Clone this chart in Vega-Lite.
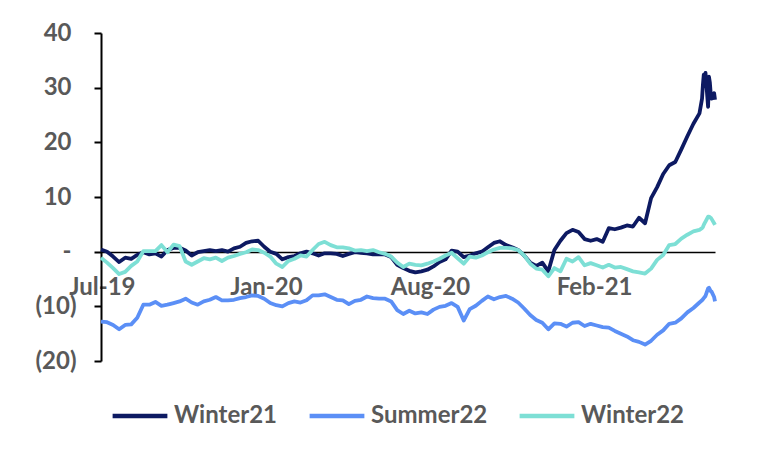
{
  "$schema": "https://vega.github.io/schema/vega-lite/v6.json",
  "width": 614,
  "height": 328,
  "autosize": {"type": "none"},
  "padding": {"left": 101, "top": 33, "right": 46, "bottom": 89},
  "background": "white",
  "config": {"view": {"stroke": null}, "font": "Lato"},
  "data": {"values": [
    {"date":"2019-07-19","Winter21":0.4,"Summer22":-12.8,"Winter22":-1.1},
    {"date":"2019-07-26","Winter21":0.0,"Summer22":-12.9,"Winter22":-2.0},
    {"date":"2019-08-02","Winter21":-0.9,"Summer22":-13.4,"Winter22":-3.0},
    {"date":"2019-08-09","Winter21":-1.9,"Summer22":-14.2,"Winter22":-4.1},
    {"date":"2019-08-16","Winter21":-1.1,"Summer22":-13.4,"Winter22":-3.7},
    {"date":"2019-08-23","Winter21":-1.3,"Summer22":-13.3,"Winter22":-2.6},
    {"date":"2019-08-30","Winter21":-0.6,"Summer22":-12.1,"Winter22":-1.8},
    {"date":"2019-09-06","Winter21":-0.1,"Summer22":-9.7,"Winter22":0.1},
    {"date":"2019-09-13","Winter21":-0.5,"Summer22":-9.7,"Winter22":0.1},
    {"date":"2019-09-20","Winter21":-0.3,"Summer22":-9.2,"Winter22":0.1},
    {"date":"2019-09-27","Winter21":-0.9,"Summer22":-9.9,"Winter22":1.2},
    {"date":"2019-10-04","Winter21":0.3,"Summer22":-9.7,"Winter22":-0.1},
    {"date":"2019-10-11","Winter21":0.7,"Summer22":-9.4,"Winter22":1.3},
    {"date":"2019-10-18","Winter21":0.7,"Summer22":-9.1,"Winter22":1.0},
    {"date":"2019-10-25","Winter21":0.2,"Summer22":-8.6,"Winter22":-1.8},
    {"date":"2019-11-01","Winter21":-0.7,"Summer22":-9.3,"Winter22":-2.4},
    {"date":"2019-11-08","Winter21":-0.1,"Summer22":-9.7,"Winter22":-1.8},
    {"date":"2019-11-15","Winter21":0.1,"Summer22":-9.1,"Winter22":-1.2},
    {"date":"2019-11-22","Winter21":0.3,"Summer22":-8.8,"Winter22":-1.4},
    {"date":"2019-11-29","Winter21":0.1,"Summer22":-8.3,"Winter22":-1.1},
    {"date":"2019-12-06","Winter21":0.3,"Summer22":-8.9,"Winter22":-1.7},
    {"date":"2019-12-13","Winter21":0.0,"Summer22":-8.9,"Winter22":-1.1},
    {"date":"2019-12-20","Winter21":0.6,"Summer22":-8.8,"Winter22":-0.8},
    {"date":"2019-12-27","Winter21":0.9,"Summer22":-8.5,"Winter22":-0.4},
    {"date":"2020-01-03","Winter21":1.6,"Summer22":-8.3,"Winter22":-0.1},
    {"date":"2020-01-10","Winter21":1.9,"Summer22":-8.0,"Winter22":0.4},
    {"date":"2020-01-17","Winter21":2.0,"Summer22":-8.1,"Winter22":0.3},
    {"date":"2020-01-24","Winter21":0.9,"Summer22":-8.6,"Winter22":-0.2},
    {"date":"2020-01-31","Winter21":0.0,"Summer22":-9.4,"Winter22":-0.9},
    {"date":"2020-02-07","Winter21":-0.4,"Summer22":-9.8,"Winter22":-2.2},
    {"date":"2020-02-14","Winter21":-1.4,"Summer22":-10.0,"Winter22":-2.8},
    {"date":"2020-02-21","Winter21":-1.0,"Summer22":-9.4,"Winter22":-1.7},
    {"date":"2020-02-28","Winter21":-0.8,"Summer22":-9.1,"Winter22":-1.3},
    {"date":"2020-03-06","Winter21":-0.3,"Summer22":-9.3,"Winter22":-0.7},
    {"date":"2020-03-13","Winter21":0.0,"Summer22":-8.9,"Winter22":-0.9},
    {"date":"2020-03-20","Winter21":-0.3,"Summer22":-8.0,"Winter22":0.3},
    {"date":"2020-03-27","Winter21":-0.7,"Summer22":-8.0,"Winter22":1.4},
    {"date":"2020-04-03","Winter21":-0.3,"Summer22":-7.8,"Winter22":1.8},
    {"date":"2020-04-10","Winter21":-0.3,"Summer22":-8.3,"Winter22":1.2},
    {"date":"2020-04-17","Winter21":-0.4,"Summer22":-8.8,"Winter22":0.8},
    {"date":"2020-04-24","Winter21":-0.8,"Summer22":-8.9,"Winter22":0.8},
    {"date":"2020-05-01","Winter21":-0.4,"Summer22":-9.6,"Winter22":0.6},
    {"date":"2020-05-08","Winter21":-0.1,"Summer22":-9.0,"Winter22":0.2},
    {"date":"2020-05-15","Winter21":-0.2,"Summer22":-8.8,"Winter22":0.3},
    {"date":"2020-05-22","Winter21":-0.3,"Summer22":-8.2,"Winter22":0.1},
    {"date":"2020-05-29","Winter21":-0.5,"Summer22":-8.5,"Winter22":0.3},
    {"date":"2020-06-05","Winter21":-0.5,"Summer22":-8.6,"Winter22":-0.1},
    {"date":"2020-06-12","Winter21":-0.5,"Summer22":-8.6,"Winter22":-0.4},
    {"date":"2020-06-19","Winter21":-1.0,"Summer22":-9.1,"Winter22":-0.9},
    {"date":"2020-06-26","Winter21":-2.4,"Summer22":-10.7,"Winter22":-2.0},
    {"date":"2020-07-03","Winter21":-3.0,"Summer22":-11.4,"Winter22":-2.8},
    {"date":"2020-07-10","Winter21":-3.5,"Summer22":-10.8,"Winter22":-2.2},
    {"date":"2020-07-17","Winter21":-3.8,"Summer22":-11.3,"Winter22":-2.4},
    {"date":"2020-07-24","Winter21":-3.6,"Summer22":-11.1,"Winter22":-2.5},
    {"date":"2020-07-31","Winter21":-3.3,"Summer22":-11.4,"Winter22":-2.2},
    {"date":"2020-08-07","Winter21":-2.7,"Summer22":-10.6,"Winter22":-1.8},
    {"date":"2020-08-14","Winter21":-1.9,"Summer22":-10.1,"Winter22":-1.3},
    {"date":"2020-08-21","Winter21":-1.4,"Summer22":-9.9,"Winter22":-0.7},
    {"date":"2020-08-28","Winter21":0.2,"Summer22":-9.4,"Winter22":-0.2},
    {"date":"2020-09-04","Winter21":0.0,"Summer22":-10.1,"Winter22":-1.2},
    {"date":"2020-09-11","Winter21":-1.0,"Summer22":-12.6,"Winter22":-2.2},
    {"date":"2020-09-18","Winter21":-0.7,"Summer22":-10.5,"Winter22":-0.9},
    {"date":"2020-09-25","Winter21":-0.3,"Summer22":-9.9,"Winter22":-1.1},
    {"date":"2020-10-02","Winter21":0.0,"Summer22":-9.0,"Winter22":-0.7},
    {"date":"2020-10-09","Winter21":0.8,"Summer22":-8.2,"Winter22":-0.1},
    {"date":"2020-10-16","Winter21":1.6,"Summer22":-8.7,"Winter22":0.4},
    {"date":"2020-10-23","Winter21":1.9,"Summer22":-8.3,"Winter22":0.7},
    {"date":"2020-10-30","Winter21":1.2,"Summer22":-8.1,"Winter22":0.7},
    {"date":"2020-11-06","Winter21":0.8,"Summer22":-8.6,"Winter22":0.6},
    {"date":"2020-11-13","Winter21":0.3,"Summer22":-9.3,"Winter22":0.3},
    {"date":"2020-11-20","Winter21":-0.7,"Summer22":-10.4,"Winter22":-0.7},
    {"date":"2020-11-27","Winter21":-2.0,"Summer22":-11.6,"Winter22":-2.2},
    {"date":"2020-12-04","Winter21":-2.6,"Summer22":-12.5,"Winter22":-3.1},
    {"date":"2020-12-11","Winter21":-2.0,"Summer22":-13.0,"Winter22":-3.3},
    {"date":"2020-12-18","Winter21":-3.6,"Summer22":-14.2,"Winter22":-4.5},
    {"date":"2020-12-25","Winter21":0.3,"Summer22":-13.1,"Winter22":-3.0},
    {"date":"2021-01-01","Winter21":2.0,"Summer22":-13.2,"Winter22":-3.6},
    {"date":"2021-01-08","Winter21":3.4,"Summer22":-13.7,"Winter22":-1.3},
    {"date":"2021-01-15","Winter21":4.0,"Summer22":-13.0,"Winter22":-1.8},
    {"date":"2021-01-22","Winter21":3.6,"Summer22":-12.9,"Winter22":-1.0},
    {"date":"2021-01-29","Winter21":2.3,"Summer22":-13.6,"Winter22":-2.5},
    {"date":"2021-02-05","Winter21":2.0,"Summer22":-13.2,"Winter22":-2.1},
    {"date":"2021-02-12","Winter21":2.3,"Summer22":-13.5,"Winter22":-2.5},
    {"date":"2021-02-19","Winter21":1.8,"Summer22":-13.8,"Winter22":-2.9},
    {"date":"2021-02-26","Winter21":4.3,"Summer22":-13.9,"Winter22":-2.4},
    {"date":"2021-03-05","Winter21":4.1,"Summer22":-14.5,"Winter22":-2.9},
    {"date":"2021-03-12","Winter21":4.4,"Summer22":-15.0,"Winter22":-2.8},
    {"date":"2021-03-19","Winter21":4.8,"Summer22":-15.5,"Winter22":-3.2},
    {"date":"2021-03-26","Winter21":4.6,"Summer22":-16.2,"Winter22":-3.6},
    {"date":"2021-04-02","Winter21":6.2,"Summer22":-16.5,"Winter22":-3.8},
    {"date":"2021-04-09","Winter21":5.2,"Summer22":-17.0,"Winter22":-4.0},
    {"date":"2021-04-16","Winter21":9.8,"Summer22":-16.3,"Winter22":-3.1},
    {"date":"2021-04-23","Winter21":11.8,"Summer22":-15.2,"Winter22":-1.5},
    {"date":"2021-04-30","Winter21":14.2,"Summer22":-14.4,"Winter22":-0.6},
    {"date":"2021-05-07","Winter21":15.8,"Summer22":-13.2,"Winter22":1.2},
    {"date":"2021-05-14","Winter21":16.4,"Summer22":-13.0,"Winter22":1.4},
    {"date":"2021-05-21","Winter21":18.7,"Summer22":-12.2,"Winter22":2.4},
    {"date":"2021-05-28","Winter21":21.1,"Summer22":-11.1,"Winter22":3.1},
    {"date":"2021-06-04","Winter21":23.4,"Summer22":-10.3,"Winter22":3.7},
    {"date":"2021-06-11","Winter21":25.3,"Summer22":-9.3,"Winter22":4.0},
    {"date":"2021-06-14","Winter21":28.0,"Summer22":-8.9,"Winter22":4.3},
    {"date":"2021-06-15","Winter21":30.5,"Summer22":-8.7,"Winter22":4.5},
    {"date":"2021-06-16","Winter21":32.4,"Summer22":-8.5,"Winter22":4.9},
    {"date":"2021-06-17","Winter21":32.2,"Summer22":-8.3,"Winter22":5.2},
    {"date":"2021-06-18","Winter21":32.7,"Summer22":-8.1,"Winter22":5.5},
    {"date":"2021-06-21","Winter21":26.5,"Summer22":-6.7,"Winter22":6.4},
    {"date":"2021-06-22","Winter21":32.0,"Summer22":-6.6,"Winter22":6.4},
    {"date":"2021-06-23","Winter21":31.0,"Summer22":-6.9,"Winter22":6.3},
    {"date":"2021-06-24","Winter21":29.0,"Summer22":-7.2,"Winter22":6.2},
    {"date":"2021-06-25","Winter21":28.0,"Summer22":-7.3,"Winter22":6.0},
    {"date":"2021-06-28","Winter21":29.0,"Summer22":-8.3,"Winter22":5.2},
    {"date":"2021-06-29","Winter21":27.8,"Summer22":-9.1,"Winter22":4.9}
  ]},
  "transform": [{"fold": ["Winter21", "Summer22", "Winter22"], "as": ["series", "value"]}],
  "mark": {"type": "line", "strokeWidth": 3.8, "strokeJoin": "round"},
  "encoding": {
    "x": {
      "field": "date", "type": "temporal",
      "scale": {"type": "utc", "domain": [{"year": 2019, "month": 7, "date": 19, "utc": true}, {"year": 2021, "month": 6, "date": 29, "utc": true}]},
      "axis": {
        "title": null,
        "values": [{"year": 2019, "month": 7, "date": 20, "utc": true}, {"year": 2020, "month": 1, "date": 26, "utc": true}, {"year": 2020, "month": 8, "date": 3, "utc": true}, {"year": 2021, "month": 2, "date": 9, "utc": true}],
        "labelExpr": "utcFormat(datum.value, '%b-%y')",
        "offset": -109, "ticks": false, "grid": false,
        "domainColor": "black", "domainWidth": 1.5,
        "labelPadding": 23, "labelFontSize": 24, "labelFontWeight": "bold", "labelColor": "#595959",
        "labelFlush": false, "labelOverlap": false
      }
    },
    "y": {
      "field": "value", "type": "quantitative",
      "scale": {"domain": [-20, 40], "nice": false, "zero": false},
      "axis": {
        "title": null, "grid": false,
        "values": [-20, -10, 0, 10, 20, 30, 40],
        "labelExpr": "datum.value == 0 ? '-' : (datum.value < 0 ? '(' + (-datum.value) + ')' : datum.value + '')",
        "domainColor": "black", "domainWidth": 2,
        "tickColor": "black", "tickWidth": 2, "tickSize": 7,
        "labelPadding": {"condition": {"test": "datum.value < 0", "value": 18}, "value": 23},
        "labelFontSize": 24, "labelFontWeight": "bold", "labelColor": "#595959"
      }
    },
    "color": {
      "field": "series", "type": "nominal",
      "scale": {"domain": ["Winter21", "Summer22", "Winter22"], "range": ["#0d1a62", "#5b8ff6", "#7ddfd5"]},
      "legend": {
        "title": null, "orient": "bottom", "direction": "horizontal",
        "symbolType": "stroke", "symbolSize": 3000, "symbolStrokeWidth": 4.5,
        "labelFontSize": 24, "labelFontWeight": "bold", "labelColor": "#595959",
        "labelOffset": 4, "columnPadding": 22, "padding": 9, "offset": 16
      }
    }
  }
}
